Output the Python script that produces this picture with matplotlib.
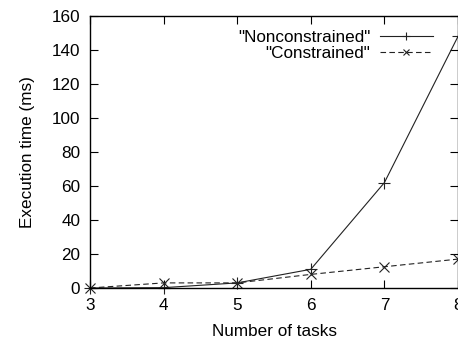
import matplotlib
matplotlib.use("Agg")
import matplotlib.pyplot as plt

plt.rcParams['font.family'] = ['Liberation Sans', 'DejaVu Sans']

tasks = [3, 4, 5, 6, 7, 8]
nonconstrained = [0, 0.2, 3, 11, 62, 148]
constrained = [0, 3, 3, 8, 12.5, 17]
xticks = [3, 4, 5, 6, 7, 8]
yticks = [0, 20, 40, 60, 80, 100, 120, 140, 160]

fig = plt.figure(figsize=(4.58, 3.40), dpi=100)
ax = fig.add_axes([90/458, 52/340, 368/458, 272/340])

ax.plot(tasks, nonconstrained, color='#222222', lw=0.8, marker='+', ms=8, mew=0.8,
        label='"Nonconstrained"', clip_on=False)
ax.plot(tasks, constrained, color='#222222', lw=0.8, ls=(0, (5, 3)), marker='x', ms=7, mew=0.8,
        label='"Constrained"', clip_on=False)

ax.set_xlim(3, 8)
ax.set_ylim(0, 160)
ax.set_xticks(xticks)
ax.set_yticks(yticks)
ax.tick_params(direction='in', top=True, right=True, length=6, width=0.8, labelsize=12.3, pad=7)
for s in ax.spines.values():
    s.set_linewidth(1.0)

ax.set_xlabel('Number of tasks', fontsize=12.3, labelpad=8)
ax.set_ylabel('Execution time (ms)', fontsize=12.3, labelpad=12)

leg = ax.legend(loc='upper right', markerfirst=False, frameon=False, fontsize=12.3,
                handlelength=3.1, borderaxespad=0.4, labelspacing=0.1, handletextpad=0.55,
                markerscale=0.7, bbox_to_anchor=(0.968, 1.0))

fig.savefig('out.png', dpi=100)
